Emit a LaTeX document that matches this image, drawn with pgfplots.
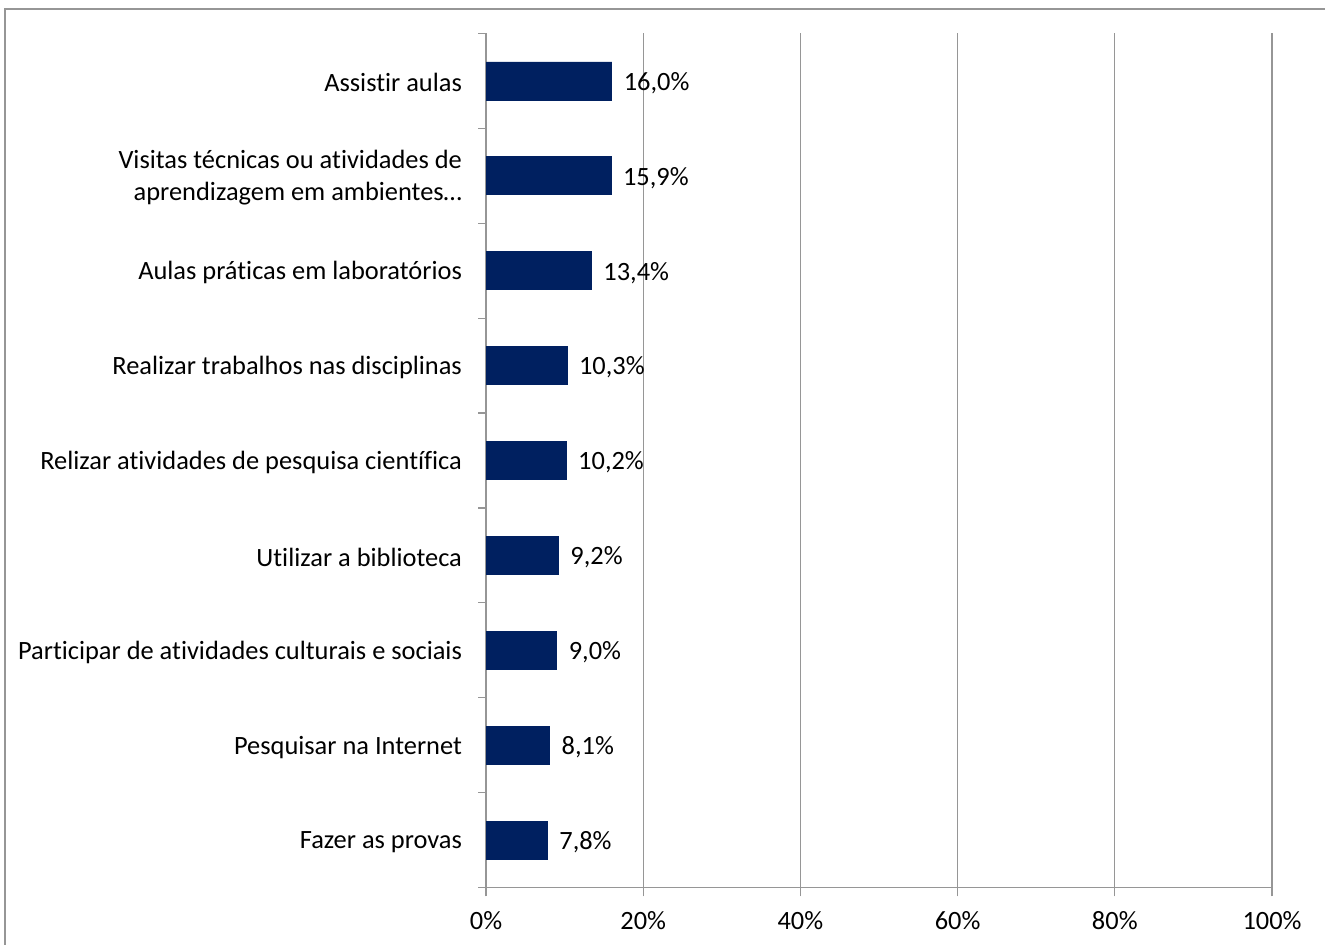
\documentclass[border=0pt]{standalone}
\usepackage{fontspec}
\setmainfont{Carlito}[Ligatures={NoCommon}]
\usepackage{pgfplots}
\pgfplotsset{compat=1.18}
\definecolor{barblue}{HTML}{002060}
\definecolor{axgray}{RGB}{150,150,150}
\begin{document}
\begin{tikzpicture}[x=1pt,y=1pt]
\begin{axis}[
  at={(243pt,28.75pt)}, anchor=south west,
  scale only axis, width=393pt, height=427pt,
  xbar, bar width=0.4,
  xmin=0, xmax=100, ymin=-0.5, ymax=8.5,
  axis lines*=left,
  axis line style={draw=axgray, line width=0.6pt},
  xmajorgrids, grid style={draw=axgray, line width=0.6pt},
  xtick={0,20,40,60,80,100},
  xticklabels={0\%,20\%,40\%,60\%,80\%,100\%},
  ytick={0,...,8},
  yticklabels={{Fazer as provas},{Pesquisar na Internet},{Participar de atividades culturais e sociais},{Utilizar a biblioteca},{Relizar atividades de pesquisa científica},{Realizar trabalhos nas disciplinas},{Aulas práticas em laboratórios},{Visitas técnicas ou atividades de\\aprendizagem em ambientes…},{Assistir aulas}},
  minor ytick={-0.5,0.5,...,8.5},
  tick align=outside,
  xtick pos=bottom, ytick pos=left,
  major tick length=4.5pt, minor tick length=4pt,
  major y tick style={draw=none},
  tick style={draw=axgray, line width=0.6pt},
  /pgf/number format/assume math mode=true,
  tick label style={font=\fontsize{13.2}{16}\selectfont},
  yticklabel style={align=right, xshift=-4pt, yshift=-1pt},
  xticklabel style={yshift=-4pt},
  nodes near coords={\pgfmathprintnumber[fixed,fixed zerofill,precision=1,use comma]{\pgfplotspointmeta}\%},
  nodes near coords style={font=\fontsize{13.2}{16}\selectfont, anchor=west, xshift=2.5pt, yshift=-1pt, text=black},
  clip=false,
]
\addplot[fill=barblue, draw=barblue] coordinates {
  (7.8,0) (8.1,1) (9.0,2) (9.2,3) (10.2,4) (10.3,5) (13.4,6) (15.9,7) (16.0,8)
};
\end{axis}
\draw[axgray, line width=1pt] (2.5pt,-30pt) -- (2.5pt,468pt) -- (700pt,468pt);
\pgfresetboundingbox
\path[use as bounding box] (0,0) rectangle (662.5pt,472.5pt);
\end{tikzpicture}
\end{document}
